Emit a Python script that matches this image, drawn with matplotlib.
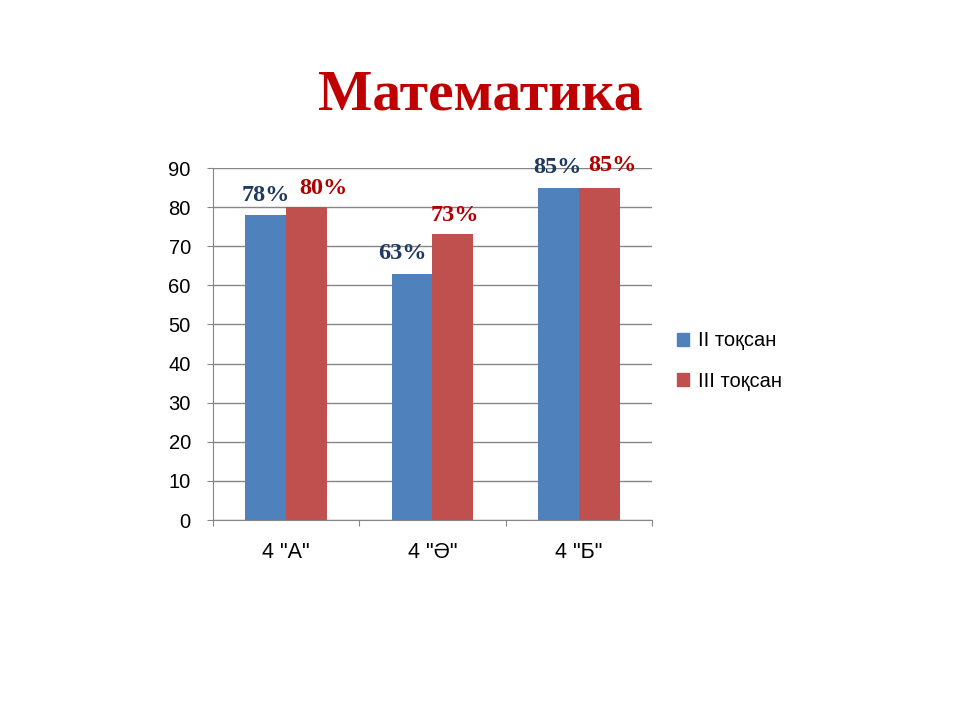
import matplotlib
matplotlib.use("Agg")
import matplotlib.pyplot as plt
import numpy as np
from matplotlib.patches import Patch

categories = ['4 "А"', '4 "Ә"', '4 "Б"']
series_names = ["II тоқсан", "III тоқсан"]
q2_values = [78, 63, 85]
q3_values = [80, 73, 85]
q2_labels = ["78%", "63%", "85%"]
q3_labels = ["80%", "73%", "85%"]
y_ticks = [0, 10, 20, 30, 40, 50, 60, 70, 80, 90]

blue = "#4F81BD"
red = "#C0504D"
lbl_blue = "#1F3A5F"
lbl_red = "#B00000"

fig = plt.figure(figsize=(9.6, 7.2), dpi=100)
ax = fig.add_axes([213/960, 1-520/720, (652-213)/960, (520-168)/720])

x = np.arange(len(categories))
w = 0.28
ax.bar(x - w/2, q2_values, width=w, color=blue, zorder=3)
ax.bar(x + w/2, q3_values, width=w, color=red, zorder=3)

ax.set_xlim(-0.5, 2.5)
ax.set_ylim(0, 90)
ax.set_yticks(y_ticks)
ax.yaxis.grid(True, color="#868686", linewidth=1, zorder=0)
ax.set_axisbelow(True)
for s in ["top", "right"]:
    ax.spines[s].set_visible(False)
ax.spines["left"].set_color("#868686")
ax.spines["bottom"].set_color("#868686")
ax.tick_params(axis="y", length=4, color="#868686", labelsize=14.5, pad=12)
ax.set_xticks([-0.5, 0.5, 1.5, 2.5])
ax.set_xticklabels([])
ax.set_xticks(x, minor=True)
ax.set_xticklabels(categories, minor=True)
ax.tick_params(axis="x", which="major", length=4, color="#868686")
ax.tick_params(axis="x", which="minor", length=0, labelsize=15.5, pad=16)
for t in ax.get_yticklabels() + ax.get_xticklabels(minor=True):
    t.set_fontfamily("Liberation Sans")

# manual label offsets (pixels) as in the original slide
off_q2 = [(0, 19), (-10, 20), (-1, 20)]
off_q3 = [(17, 19), (2, 19), (13, 22)]
for i in range(len(categories)):
    ax.annotate(q2_labels[i], xy=(x[i] - w/2, q2_values[i]), xytext=off_q2[i],
                textcoords="offset pixels", ha="center", va="center",
                fontsize=17.5, fontweight="bold", family="Liberation Serif",
                color=lbl_blue, annotation_clip=False)
    ax.annotate(q3_labels[i], xy=(x[i] + w/2, q3_values[i]), xytext=off_q3[i],
                textcoords="offset pixels", ha="center", va="center",
                fontsize=17.5, fontweight="bold", family="Liberation Serif",
                color=lbl_red, annotation_clip=False)

handles = [Patch(color=blue), Patch(color=red)]
fig.legend(handles, series_names, loc="center left", bbox_to_anchor=(659/960, 1-361/720),
           frameon=False, prop={"family": "Liberation Sans", "size": 14.5},
           handlelength=0.6, handleheight=0.6, handletextpad=0.45, labelspacing=1.05)

fig.text(480/960, 1-95/720, "Математика", ha="center", va="center",
         fontsize=41.5, fontweight="bold", family="Liberation Serif", color="#C00000")

fig.savefig("out.png", dpi=100)
